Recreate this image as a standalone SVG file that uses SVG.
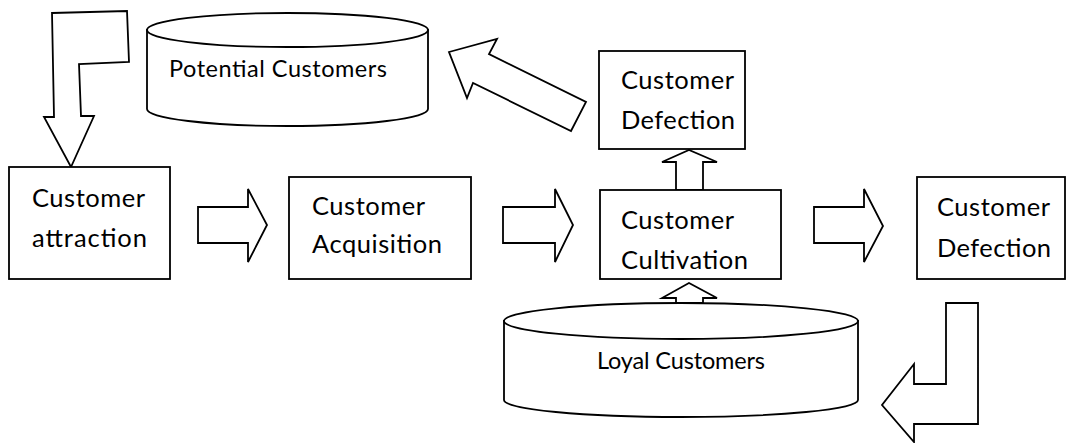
<svg xmlns="http://www.w3.org/2000/svg" width="1068" height="443" viewBox="0 0 1068 443">
<style>
.s{fill:#fff;stroke:#000;stroke-width:1.8;stroke-linejoin:miter}
.t{font-family:Lato,"Open Sans",sans-serif;font-size:25.5px;fill:#000}
.c{font-family:Lato,"Open Sans",sans-serif;font-size:23.5px;fill:#000}
</style>
<rect width="1068" height="443" fill="#fff"/>
<g id="connectors">
<polygon class="s" points="52,13 127,11 129,62 79,64 81,116 94,116 71,167 44,117 54,117"/>
<polygon class="s" points="198,207 248,207 248,189 267,225 248,262 248,243 198,243"/>
<polygon class="s" points="503,207 555,207 555,189 573,225 555,262 555,243 503,243"/>
<polygon class="s" points="814,207 864,207 864,189 883,226 864,262 864,243 814,243"/>
<polygon class="s" points="676,190 676,162 662,162 689,150 717,162 703,162 703,190"/>
<polygon class="s" points="676,303 676,298 662,298 689,283 717,298 703,298 703,303"/>
<polygon class="s" points="449,52 497,39 489,54 586,102 571,131 473,83 467,98"/>
<polygon class="s" points="946,303 978,303 978,424 914,424 914,442 882,405 914,364 914,384 946,384"/>
</g>
<g id="potential">
<path class="s" d="M147,30 L147,109 A140.5,17 0 0 0 428,109 L428,30 Z"/>
<ellipse class="s" cx="287.5" cy="30" rx="140.5" ry="17"/>
<text class="c" x="169" y="77" textLength="218">Potential Customers</text>
</g>
<g id="loyal">
<path class="s" d="M504,321 L504,400 A177,17 0 0 0 858,400 L858,321 Z"/>
<ellipse class="s" cx="681" cy="321" rx="177" ry="18"/>
<text class="c" x="597" y="369" textLength="168">Loyal Customers</text>
</g>
<g id="attraction">
<rect class="s" x="9" y="167" width="161" height="112"/>
<text class="t" x="32" y="207" textLength="113">Customer</text>
<text class="t" x="32" y="247" textLength="115">attraction</text>
</g>
<g id="acquisition">
<rect class="s" x="289" y="177" width="182" height="102"/>
<text class="t" x="312" y="215" textLength="113">Customer</text>
<text class="t" x="312" y="253" textLength="130">Acquisition</text>
</g>
<g id="cultivation">
<rect class="s" x="600" y="190" width="181" height="89"/>
<text class="t" x="621" y="229" textLength="113">Customer</text>
<text class="t" x="621" y="269" textLength="127">Cultivation</text>
</g>
<g id="defection-top">
<rect class="s" x="599" y="51" width="146" height="98"/>
<text class="t" x="621" y="89" textLength="113">Customer</text>
<text class="t" x="621" y="129" textLength="114">Defection</text>
</g>
<g id="defection-right">
<rect class="s" x="917" y="177" width="148" height="102"/>
<text class="t" x="937" y="216" textLength="113">Customer</text>
<text class="t" x="937" y="257" textLength="114">Defection</text>
</g>
</svg>
